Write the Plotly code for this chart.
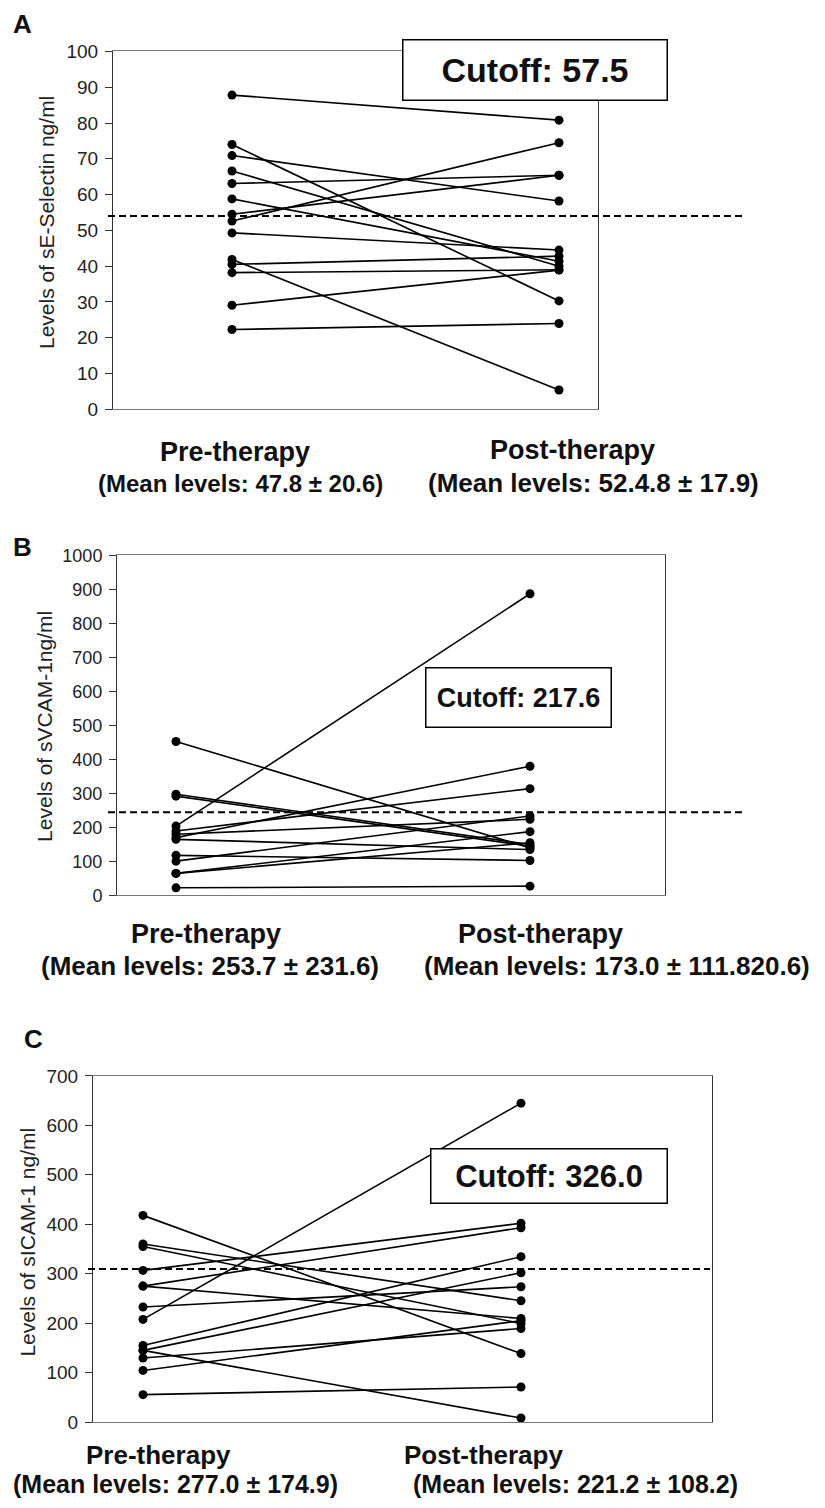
import plotly.graph_objects as go

# ---------------- data ----------------
groups = ["Pre-therapy", "Post-therapy"]

# Panel A: sE-Selectin (ng/ml)
a_pre = [87.8, 74.0, 70.9, 66.6, 63.1, 58.8, 54.5, 52.6, 49.3, 41.9, 40.5, 38.2, 29.1, 22.3]
a_post = [80.8, 30.3, 58.2, 40.0, 65.4, 41.4, 65.4, 74.5, 44.5, 5.4, 42.8, 39.0, 38.9, 24.0]
a_cut_line = 54.0
a_ticks = list(range(0, 101, 10))

# Panel B: sVCAM-1 (ng/ml)
b_pre = [452.8, 297.6, 292.0, 204.0, 189.6, 180.0, 170.0, 165.0, 118.0, 101.0, 65.0, 65.0, 22.6]
b_post = [140.0, 150.0, 145.0, 887.0, 314.0, 224.0, 380.0, 135.0, 103.0, 233.8, 187.6, 155.0, 27.5]
b_cut_line = 245.0
b_ticks = list(range(0, 1001, 100))

# Panel C: sICAM-1 (ng/ml)
c_pre = [418.0, 360.0, 355.0, 306.7, 275.0, 275.0, 232.6, 207.6, 155.0, 145.0, 145.0, 129.5, 104.4, 55.4]
c_post = [138.5, 245.3, 199.3, 402.0, 393.0, 209.5, 273.6, 645.0, 334.5, 302.0, 8.1, 189.2, 205.0, 71.0]
c_cut_line = 309.5
c_ticks = list(range(0, 701, 100))

cutoff_texts = ["Cutoff: 57.5", "Cutoff: 217.6", "Cutoff: 326.0"]
y_titles = ["Levels of sE-Selectin ng/ml", "Levels of sVCAM-1ng/ml", "Levels of sICAM-1 ng/ml"]
panel_letters = ["A", "B", "C"]
pre_means = ["(Mean levels: 47.8 \u00b1 20.6)", "(Mean levels: 253.7 \u00b1 231.6)", "(Mean levels: 277.0 \u00b1 174.9)"]
post_means = ["(Mean levels: 52.4.8 \u00b1 17.9)", "(Mean levels: 173.0 \u00b1 111.820.6)", "(Mean levels: 221.2 \u00b1 108.2)"]

# ---------------- layout geometry (pixels) ----------------
W, H = 825, 1508
SANS = "Liberation Sans, Arial, sans-serif"

def px(x):
    return x / W

def py(y):
    return 1 - y / H

panels = [
    dict(pre=a_pre, post=a_post, cut=a_cut_line, ticks=a_ticks, yr=[0, 100], tfs=19,
         left=113, right=598, top=42, bottom=405, xpre=232, xpost=559,
         box=(402, 30, 668, 92), bfs=34, dash=(108, 745), ytitle=(47, 216), letter=(22, 14),
         pre_lab=(235, 448), pre_mean=(240, 480), post_lab=(572, 446), post_mean=(593, 480),
         lab_fs=27, mean_fs=(24, 26)),
    dict(pre=b_pre, post=b_post, cut=b_cut_line, ticks=b_ticks, yr=[0, 1000], tfs=18,
         left=117, right=665, top=553, bottom=898, xpre=176, xpost=530,
         box=(425, 667, 612, 728), bfs=27, dash=(108, 745), ytitle=(45, 727), letter=(22, 545),
         pre_lab=(206, 937), pre_mean=(210, 970), post_lab=(540, 937), post_mean=(617, 970),
         lab_fs=27, mean_fs=(26, 26)),
    dict(pre=c_pre, post=c_post, cut=c_cut_line, ticks=c_ticks, yr=[0, 700], tfs=19,
         left=93, right=712, top=1081, bottom=1432, xpre=143, xpost=521,
         box=(430, 1154, 668, 1210), bfs=31, dash=(88, 710), ytitle=(28, 1250), letter=(33, 1044),
         pre_lab=(158, 1465), pre_mean=(175, 1495), post_lab=(483, 1465), post_mean=(575, 1495),
         lab_fs=26, mean_fs=(25, 25)),
]

fig = go.Figure()
shapes = []
annotations = []

for i, p in enumerate(panels):
    idx = "" if i == 0 else str(i + 1)
    xa, ya = "x" + idx, "y" + idx
    xs, ys = [], []
    for a, b in zip(p["pre"], p["post"]):
        xs += [1, 2, None]
        ys += [a, b, None]
    fig.add_trace(go.Scatter(
        x=xs, y=ys, mode="lines+markers", xaxis=xa, yaxis=ya,
        line=dict(color="black", width=1.6),
        marker=dict(color="black", size=9), showlegend=False, hoverinfo="skip"))

    unit = p["xpost"] - p["xpre"]
    xr = [1 - (p["xpre"] - p["left"]) / unit, 2 + (p["right"] - p["xpost"]) / unit]
    fig.layout["xaxis" + idx] = dict(
        domain=[px(p["left"]), px(p["right"])], range=xr,
        showticklabels=False, ticks="", showgrid=False, zeroline=False,
        showline=True, linecolor="#777", linewidth=1, mirror=True,
        anchor=ya, fixedrange=True)
    fig.layout["yaxis" + idx] = dict(
        domain=[py(p["bottom"]), py(p["top"])], range=p["yr"],
        tickvals=p["ticks"], ticks="outside", ticklen=7, tickcolor="#333",
        ticklabelstandoff=3,
        showgrid=False, zeroline=False, showline=True, linecolor="#333",
        linewidth=1, mirror=True, anchor=xa,
        tickfont=dict(family=SANS, size=p["tfs"], color="#222"),
        fixedrange=True)

    # dashed cutoff line
    shapes.append(dict(type="line", xref="paper", yref=ya,
                       x0=px(p["dash"][0]), x1=px(p["dash"][1]), y0=p["cut"], y1=p["cut"],
                       line=dict(color="black", width=2, dash="7px,4px")))

    # cutoff box
    bx0, by0, bx1, by1 = p["box"]
    annotations.append(dict(
        xref="paper", yref="paper", x=px((bx0 + bx1) / 2), y=py((by0 + by1) / 2),
        xanchor="center", yanchor="middle", showarrow=False,
        text="<b>" + cutoff_texts[i] + "</b>",
        font=dict(family=SANS, size=p["bfs"], color="#111"),
        bgcolor="white", bordercolor="black", borderwidth=1.5, borderpad=0,
        width=bx1 - bx0 - 3, height=by1 - by0 - 3))

    # y-axis title
    annotations.append(dict(
        xref="paper", yref="paper", x=px(p["ytitle"][0]), y=py(p["ytitle"][1]),
        xanchor="center", yanchor="middle", showarrow=False, textangle=-90,
        text=y_titles[i], font=dict(family=SANS, size=21, color="#222")))

    # panel letter
    annotations.append(dict(
        xref="paper", yref="paper", x=px(p["letter"][0]), y=py(p["letter"][1]),
        xanchor="center", yanchor="middle", showarrow=False,
        text="<b>" + panel_letters[i] + "</b>", font=dict(family=SANS, size=26, color="#111")))

    # group labels
    for (cx, cy), txt, sz in [(p["pre_lab"], groups[0], p["lab_fs"]),
                              (p["pre_mean"], pre_means[i], p["mean_fs"][0]),
                              (p["post_lab"], groups[1], p["lab_fs"]),
                              (p["post_mean"], post_means[i], p["mean_fs"][1])]:
        annotations.append(dict(
            xref="paper", yref="paper", x=px(cx), y=py(cy),
            xanchor="center", yanchor="middle", showarrow=False,
            text="<b>" + txt + "</b>", font=dict(family=SANS, size=sz, color="#111")))

fig.update_layout(
    width=W, height=H, margin=dict(l=0, r=0, t=0, b=0),
    paper_bgcolor="white", plot_bgcolor="white",
    shapes=shapes, annotations=annotations, showlegend=False)

fig.write_html("out.html", config={"displayModeBar": False},
               post_script="document.body.style.margin='0';")
